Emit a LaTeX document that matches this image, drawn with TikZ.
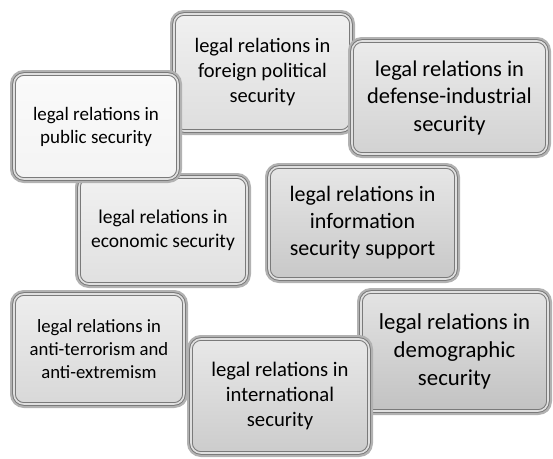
\documentclass[tikz,border=0pt]{standalone}
\usepackage{fontspec}
\setmainfont{Carlito}
\usetikzlibrary{shadows}
\tikzset{
  tile/.style={
    rounded corners=10pt, draw=black!52, line width=1pt,
    double=black!12, double distance=1.6pt,
    align=center, inner sep=2pt, text=black,
    top color=#1!45!white, bottom color=#1,
    drop shadow={shadow xshift=3pt, shadow yshift=-3pt, opacity=0.28, fill=black},
    preaction={draw=black!30, line width=8pt},
  },
  fs/.style 2 args={font=\fontsize{#1}{#2}\selectfont},
}
\definecolor{tPub}{HTML}{F4F4F4}
\definecolor{tFor}{HTML}{DEDEDE}
\definecolor{tDef}{HTML}{D2D2D2}
\definecolor{tEco}{HTML}{E0E0E0}
\definecolor{tInf}{HTML}{C8C8C8}
\definecolor{tAnt}{HTML}{D8D8D8}
\definecolor{tDem}{HTML}{C2C2C2}
\definecolor{tInt}{HTML}{CCCCCC}
\begin{document}
\begin{tikzpicture}[x=1pt,y=-1pt]
  \useasboundingbox (0,0) rectangle (553,458);
  % upper row
  \node[tile=tFor, minimum width=177pt, minimum height=117pt, fs={20.5}{25}] (forp) at (262.5,72.5)
    {legal relations in\\foreign political\\security};
  \node[tile=tDef, minimum width=195pt, minimum height=113pt, fs={22.5}{27.5}] (defind) at (449.5,97.5)
    {legal relations in\\defense-industrial\\security};
  % middle row
  \node[tile=tEco, minimum width=168pt, minimum height=107pt, fs={19.5}{23.8}] (econ) at (163,230.5)
    {legal relations in\\economic security};
  \node[tile=tPub, minimum width=164pt, minimum height=105pt, fs={19}{23}] (pub) at (96,126.5)
    {legal relations in\\public security};
  \node[tile=tInf, minimum width=187pt, minimum height=112pt, fs={22}{27}] (info) at (362.5,223)
    {legal relations in\\information\\security support};
  % lower row
  \node[tile=tAnt, minimum width=170pt, minimum height=110pt, fs={18.7}{22.8}] (anti) at (99,349)
    {legal relations in\\anti-terrorism and\\anti-extremism};
  \node[tile=tDem, minimum width=187pt, minimum height=119pt, fs={22.8}{27.8}] (demo) at (454.5,351.5)
    {legal relations in\\demographic\\security};
  \node[tile=tInt, minimum width=178pt, minimum height=114pt, fs={20.7}{25.2}] (intl) at (280,396)
    {legal relations in\\international\\security};
\end{tikzpicture}
\end{document}
